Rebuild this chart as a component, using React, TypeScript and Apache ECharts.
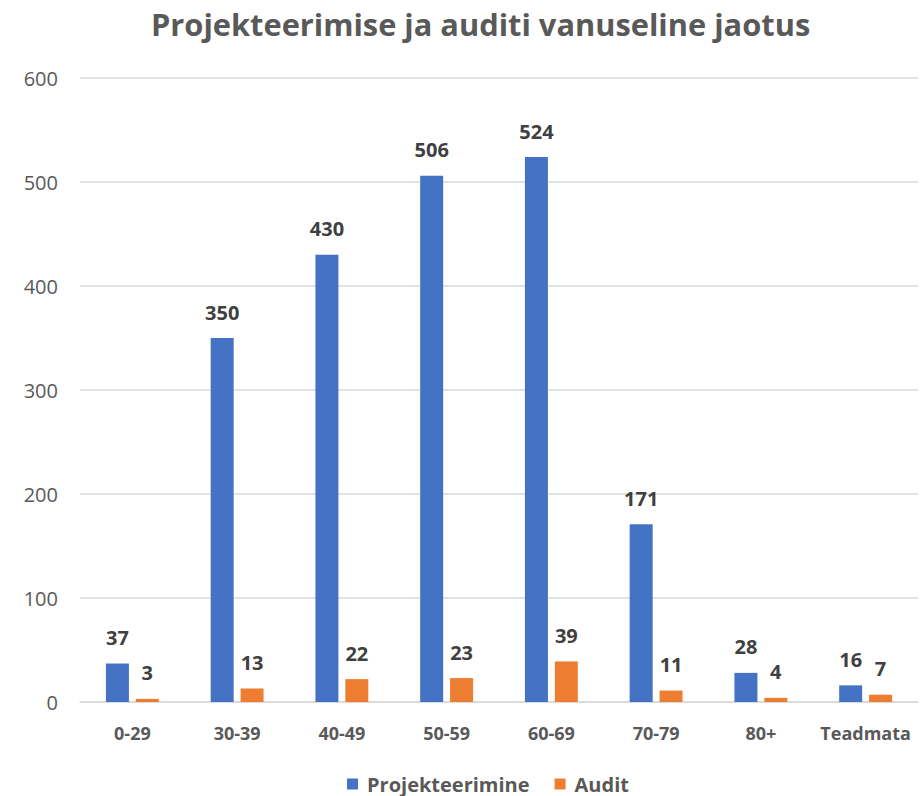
import React, { useEffect, useRef } from "react";
import * as echarts from "echarts";

const categories = ["0-29", "30-39", "40-49", "50-59", "60-69", "70-79", "80+", "Teadmata"];
const projekteerimine = [37, 350, 430, 506, 524, 171, 28, 16];
const audit = [3, 13, 22, 23, 39, 11, 4, 7];
const seriesNames = ["Projekteerimine", "Audit"];
const titleText = "Projekteerimise ja auditi vanuseline jaotus";

const FONT = "'Open Sans', 'Noto Sans', sans-serif";

export default function App() {
  const ref = useRef<HTMLDivElement>(null);
  useEffect(() => {
    if (!ref.current) return;
    const chart = echarts.init(ref.current, null, { renderer: "svg" });
    const label = {
      show: true,
      position: "top",
      distance: 16,
      fontFamily: FONT,
      fontWeight: "bold",
      fontSize: 20,
      color: "#404040",
    };
    chart.setOption({
      animation: false,
      backgroundColor: "#ffffff",
      title: {
        text: titleText,
        left: 146,
        top: 3,
        textStyle: { fontFamily: FONT, fontWeight: "bold", fontSize: 30.8, color: "#595959" },
      },
      legend: {
        bottom: -3,
        left: 342,
        itemWidth: 11,
        itemHeight: 11,
        itemGap: 25,
        icon: "rect",
        textStyle: {
          fontFamily: FONT,
          fontWeight: "bold",
          fontSize: 20,
          color: "#595959",
          padding: [0, 0, 0, 4],
        },
        data: seriesNames,
      },
      grid: { left: 80, right: 3, top: 78, bottom: 94, containLabel: false },
      xAxis: {
        type: "category",
        data: categories,
        axisLine: { lineStyle: { color: "#d9d9d9", width: 1.5 } },
        axisTick: { show: false },
        axisLabel: {
          interval: 0,
          fontFamily: FONT,
          fontWeight: "bold",
          fontSize: 18,
          color: "#595959",
          margin: 22,
        },
      },
      yAxis: {
        type: "value",
        min: 0,
        max: 600,
        interval: 100,
        axisLine: { show: false },
        axisTick: { show: false },
        splitLine: { lineStyle: { color: "#d9d9d9", width: 1.5 } },
        axisLabel: { fontFamily: FONT, fontSize: 20, color: "#595959", margin: 22 },
      },
      series: [
        {
          name: seriesNames[0],
          type: "bar",
          data: projekteerimine,
          barWidth: 23,
          barGap: "30%",
          itemStyle: { color: "#4472C4" },
          label,
        },
        {
          name: seriesNames[1],
          type: "bar",
          data: audit,
          barWidth: 23,
          itemStyle: { color: "#ED7D31" },
          label,
        },
      ],
    });
    return () => chart.dispose();
  }, []);
  return <div ref={ref} style={{ width: 921, height: 796, position: "absolute", left: 0, top: 0 }} />;
}
